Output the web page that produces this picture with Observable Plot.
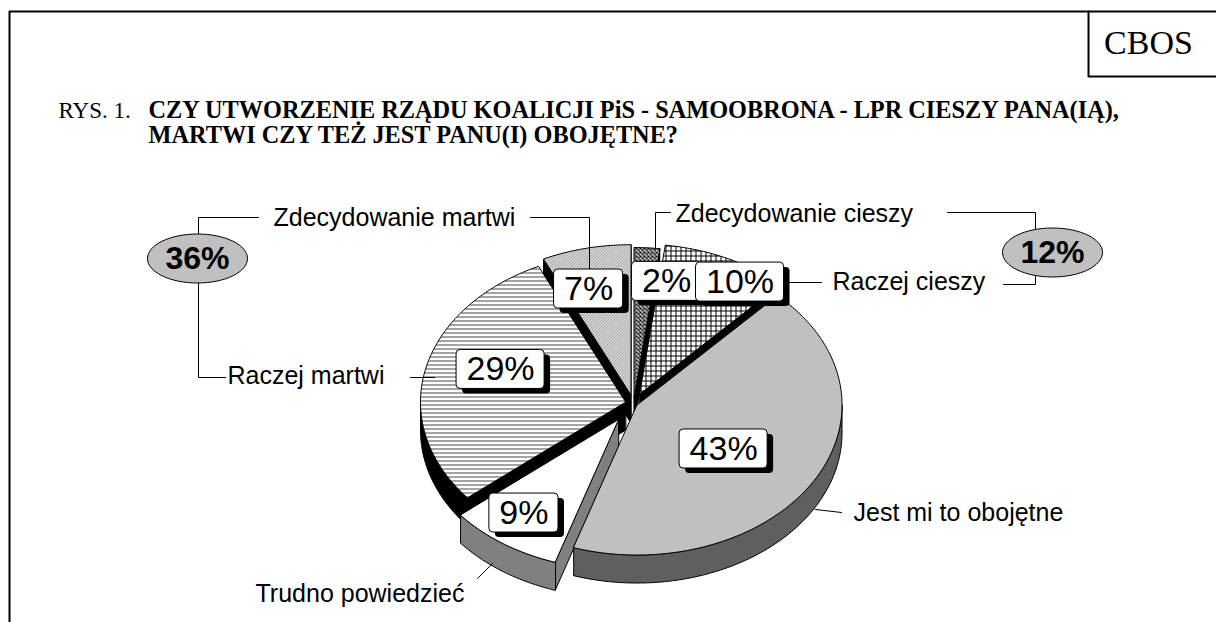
<!DOCTYPE html>
<html>
<head>
<meta charset="utf-8">
<script src="https://cdn.jsdelivr.net/npm/d3@7"></script>
<script src="https://cdn.jsdelivr.net/npm/@observablehq/plot@0.6"></script>
<style>
  html, body { margin: 0; padding: 0; background: #fff; }
  #chart svg { display: block; }
</style>
</head>
<body>
<div id="chart"></div>
<script>
// ---------------- DATA ----------------
const categories = ["Zdecydowanie cieszy", "Raczej cieszy", "Jest mi to obojętne", "Trudno powiedzieć", "Raczej martwi", "Zdecydowanie martwi"];
const values = [2, 10, 43, 9, 29, 7];
const groupMembers = [[4, 5], [0, 1]];          // "martwi" total, "cieszy" total
const titleLead = "RYS. 1.";
const titleLines = ["CZY UTWORZENIE RZĄDU KOALICJI PiS - SAMOOBRONA - LPR CIESZY PANA(IĄ),", "MARTWI CZY TEŻ JEST PANU(I) OBOJĘTNE?"];
const sourceLabel = "CBOS";

// ---------------- STYLE / LAYOUT ----------------
const W = 1216, H = 622;
const SANS = "Liberation Sans, Arial, Helvetica, sans-serif";
const SERIF = "Liberation Serif, Times New Roman, serif";
const pie = {cx: 633, cy: 403, rx: 205, ry: 150, depth: 28};
const explode = [0.04, 0.07, 0.02, 0.13, 0.04, 0.06];
const topFill = ["url(#pCross)", "url(#pGrid)", "#c0c0c0", "#ffffff", "url(#pHoriz)", "url(#pDiag)"];
const sideFill = ["#000000", "#000000", "#5f5f5f", "#808080", "#000000", "#000000"];
// value label anchor: [angle in degrees clockwise from top, radius fraction]
const labelPlacement = [[11.2, 0.83], [32.7, 0.962], [124.6, 0.534], [216.2, 0.905], [289.3, 0.687], [344, 0.794]];
// category label text start and vertical centre
const categoryPlacement = [[675, 213], [832, 281], [853, 512], [255, 593], [227, 375], [273, 217]];
const groupPlacement = [[197, 258], [1052, 252]];
const leaders = [
  [[258, 217], [198, 217], [198, 234]],
  [[198, 282], [198, 377], [225, 377]],
  [[530, 217], [589, 217], [589, 269]],
  [[410, 377], [434, 377]],
  [[670, 212], [655, 212], [655, 249]],
  [[947, 212], [1035, 212], [1035, 229]],
  [[1003, 284], [1035, 284], [1035, 275]],
  [[788, 282], [821, 282]],
  [[815, 509], [841, 512]],
  [[477, 578], [492, 563]]
];
const frameLines = [
  [[9, 622], [9, 11], [1216, 11]],
  [[1088, 11], [1088, 76], [1216, 76]]
];

// ---------------- GEOMETRY ----------------
const arcs = d3.pie().sort(null).value(d => d)(values);
const slices = arcs.map((a, i) => {
  const mid = (a.startAngle + a.endAngle) / 2;
  return {
    i, a0: a.startAngle, a1: a.endAngle, mid,
    ox: Math.sin(mid) * explode[i] * pie.rx,
    oy: -Math.cos(mid) * explode[i] * pie.ry
  };
});
const pt = (s, a, r, z = 0) => [pie.cx + s.ox + Math.sin(a) * r * pie.rx, pie.cy + s.oy - Math.cos(a) * r * pie.ry + z];
const arcPts = (s, b0, b1, z = 0) => {
  const n = Math.max(2, Math.ceil(Math.abs(b1 - b0) / (Math.PI / 180)));
  return d3.range(n + 1).map(k => pt(s, b0 + (b1 - b0) * k / n, 1, z));
};

const walls = [];
const tops = [];
for (const s of slices) {
  const D = pie.depth;
  // outer rim (front half only)
  const b0 = Math.max(s.a0, Math.PI / 2), b1 = Math.min(s.a1, 3 * Math.PI / 2);
  if (b1 > b0) {
    const pts = [...arcPts(s, b0, b1, 0), ...arcPts(s, b1, b0, D)];
    walls.push({pts, fill: sideFill[s.i], key: d3.mean(pts, p => p[1]) + 1000});
  }
  // radial walls facing the viewer
  if (Math.sin(s.a0) < 0) {
    const pts = [pt(s, 0, 0), pt(s, s.a0, 1), pt(s, s.a0, 1, D), pt(s, 0, 0, D)];
    walls.push({pts, fill: sideFill[s.i], key: d3.mean(pts, p => p[1])});
  }
  if (Math.sin(s.a1) > 0) {
    const pts = [pt(s, 0, 0), pt(s, s.a1, 1), pt(s, s.a1, 1, D), pt(s, 0, 0, D)];
    walls.push({pts, fill: sideFill[s.i], key: d3.mean(pts, p => p[1])});
  }
  tops.push({pts: [pt(s, 0, 0), ...arcPts(s, s.a0, s.a1, 0)], fill: topFill[s.i]});
}
walls.sort((a, b) => a.key - b.key);

const poly = f => Plot.line(f.pts, {x: d => d[0], y: d => d[1], fill: f.fill, stroke: "#000", strokeWidth: 1, curve: "linear-closed", strokeLinejoin: "round"});

// value labels
const VFS = 34;
const valueLabels = slices.map(s => {
  const [ang, r] = labelPlacement[s.i];
  const a = ang * Math.PI / 180;
  const x = pie.cx + Math.sin(a) * r * pie.rx;
  const y = pie.cy - Math.cos(a) * r * pie.ry;
  const txt = `${values[s.i]}%`;
  const w = 20 + VFS * (0.556 * String(values[s.i]).length + 0.889);
  return {x, y, x1: x - w / 2, x2: x + w / 2, y1: y - 19.5, y2: y + 19.5, text: txt};
});

const catLabels = categories.map((c, i) => ({x: categoryPlacement[i][0], y: categoryPlacement[i][1], text: c}));
const groupLabels = groupMembers.map((m, j) => ({x: groupPlacement[j][0], y: groupPlacement[j][1], text: `${d3.sum(m, k => values[k])}%`}));

const ellipseSymbol = (ex, ey) => ({
  draw(ctx) {
    const k = 0.5523;
    ctx.moveTo(ex, 0);
    ctx.bezierCurveTo(ex, ey * k, ex * k, ey, 0, ey);
    ctx.bezierCurveTo(-ex * k, ey, -ex, ey * k, -ex, 0);
    ctx.bezierCurveTo(-ex, -ey * k, -ex * k, -ey, 0, -ey);
    ctx.bezierCurveTo(ex * k, -ey, ex, -ey * k, ex, 0);
    ctx.closePath();
  }
});

// ---------------- MARKS ----------------
const marks = [];
for (const fl of frameLines) marks.push(Plot.line(fl, {x: d => d[0], y: d => d[1], stroke: "#000", strokeWidth: 2}));
marks.push(Plot.text([{x: 1148, y: 53, text: sourceLabel}], {x: "x", y: "y", text: "text", fontFamily: SERIF, fontSize: 34, textAnchor: "middle", lineAnchor: "bottom", fill: "#000"}));
marks.push(Plot.text([{x: 58, y: 117, text: titleLead}], {x: "x", y: "y", text: "text", fontFamily: SERIF, fontSize: 23, textAnchor: "start", lineAnchor: "bottom", fill: "#000"}));
marks.push(Plot.text(titleLines.map((t, i) => ({x: 148, y: 117 + 25.5 * i, text: t})), {x: "x", y: "y", text: "text", fontFamily: SERIF, fontSize: 24.3, fontWeight: "bold", textAnchor: "start", lineAnchor: "bottom", fill: "#000"}));

for (const f of walls) marks.push(poly(f));
for (const f of tops) marks.push(poly(f));

for (const l of leaders) marks.push(Plot.line(l, {x: d => d[0], y: d => d[1], stroke: "#000", strokeWidth: 1}));

for (const v of valueLabels) {
  marks.push(Plot.rect([v], {x1: "x1", x2: "x2", y1: "y1", y2: "y2", fill: "#000", rx: 4, dx: 6, dy: 5}));
  marks.push(Plot.rect([v], {x1: "x1", x2: "x2", y1: "y1", y2: "y2", fill: "#fff", stroke: "#000", strokeWidth: 1, rx: 4}));
  marks.push(Plot.text([v], {x: "x", y: "y", text: "text", fontFamily: SANS, fontSize: VFS, fill: "#000"}));
}

marks.push(Plot.text(catLabels, {x: "x", y: "y", text: "text", fontFamily: SANS, fontSize: 25, textAnchor: "start", fill: "#000"}));
marks.push(Plot.dot(groupLabels, {x: "x", y: "y", symbol: ellipseSymbol(50, 24.5), fill: "#c0c0c0", stroke: "#000", strokeWidth: 1}));
marks.push(Plot.text(groupLabels, {x: "x", y: "y", text: "text", fontFamily: SANS, fontSize: 32, fontWeight: "bold", fill: "#000"}));

const svg = Plot.plot({
  width: W, height: H,
  margin: 0,
  x: {domain: [0, W], range: [0, W], axis: null},
  y: {domain: [0, H], range: [0, H], axis: null},
  style: {background: "#fff", overflow: "visible"},
  marks
});

const defs = document.createElementNS("http://www.w3.org/2000/svg", "defs");
defs.innerHTML = `
<pattern id="pHoriz" patternUnits="userSpaceOnUse" width="8" height="4">
  <rect width="8" height="4" fill="#fff"/>
  <line x1="0" y1="0.5" x2="8" y2="0.5" stroke="#333" stroke-width="0.9"/>
</pattern>
<pattern id="pGrid" patternUnits="userSpaceOnUse" width="5" height="5">
  <rect width="5" height="5" fill="#fff"/>
  <path d="M0,0.5H5M0.5,0V5" stroke="#000" stroke-width="1"/>
</pattern>
<pattern id="pCross" patternUnits="userSpaceOnUse" width="4" height="4">
  <rect width="4" height="4" fill="#fff"/>
  <path d="M0,0L4,4M4,0L0,4" stroke="#000" stroke-width="1.1"/>
</pattern>
<pattern id="pDiag" patternUnits="userSpaceOnUse" width="3" height="3">
  <rect width="3" height="3" fill="#fff"/>
  <path d="M-1,1L1,-1M0,3L3,0M2,4L4,2" stroke="#222" stroke-width="0.8"/>
</pattern>`;
svg.insertBefore(defs, svg.firstChild);
document.getElementById("chart").appendChild(svg);
</script>
</body>
</html>
